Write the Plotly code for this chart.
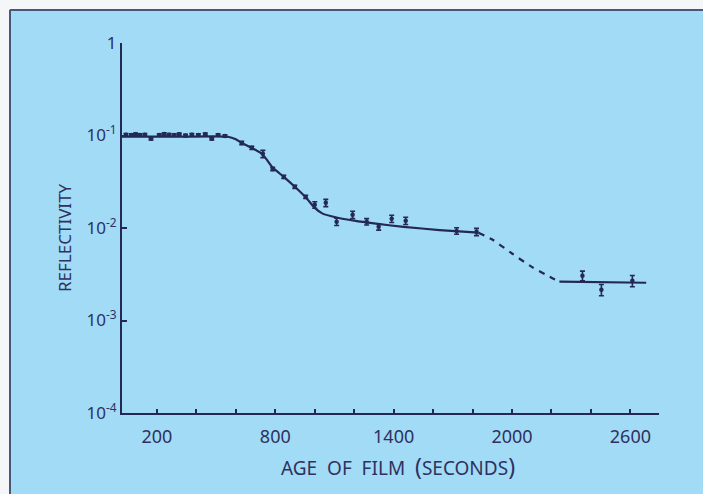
import plotly.graph_objects as go

# Measured reflectivity of the ageing film
age_s = [43, 70, 92, 114, 139, 170, 212, 237, 262, 288, 313, 345, 377, 410, 445, 478, 510, 545,
         630, 681, 737, 787, 843, 899, 954, 1000, 1056, 1111, 1192, 1263, 1324, 1390, 1461,
         1719, 1820, 2357, 2453, 2610]
reflectivity = [0.102, 0.101, 0.103, 0.101, 0.102, 0.092, 0.101, 0.104, 0.102, 0.101, 0.103, 0.100,
                0.102, 0.101, 0.103, 0.092, 0.101, 0.099,
                0.083, 0.0735, 0.0633, 0.0435, 0.0357, 0.0279, 0.0217, 0.0178, 0.0187, 0.0117,
                0.0139, 0.0117, 0.0103, 0.0126, 0.0120,
                0.0093, 0.0091, 0.00305, 0.00215, 0.00269]
rel_error = [0.03] * 18 + [0.04, 0.04, 0.09, 0.04, 0.04, 0.04, 0.04, 0.08, 0.09, 0.09,
                           0.09, 0.08, 0.08, 0.09, 0.09, 0.08, 0.09, 0.12, 0.14, 0.14]

# Fitted trend: solid where measured, dashed across the gap
fit_age = [23, 300, 560, 600, 630, 681, 737, 787, 843, 899, 954, 1000, 1040, 1111, 1200,
           1300, 1450, 1633, 1830]
fit_refl = [0.097, 0.097, 0.097, 0.091, 0.083, 0.0735, 0.062, 0.045, 0.0357, 0.0279, 0.0215,
            0.0165, 0.0143, 0.0130, 0.0120, 0.0112, 0.0103, 0.0095, 0.0089]
gap_age = [1830, 1900, 2000, 2100, 2200, 2240]
gap_refl = [0.0089, 0.0075, 0.0053, 0.0038, 0.0029, 0.00265]
tail_age = [2240, 2450, 2680]
tail_refl = [0.00263, 0.0026, 0.00256]

x_ticks = [200, 400, 600, 800, 1000, 1200, 1400, 1600, 1800, 2000, 2200, 2400, 2600]
x_labels = ["200", "", "", "800", "", "", "1400", "", "", "2000", "", "", "2600"]
y_ticks = [1e-4, 1e-3, 1e-2, 1e-1, 1]
y_labels = ["10<sup>-4</sup>", "10<sup>-3</sup>", "10<sup>-2</sup>", "10<sup>-1</sup>", "1"]

INK = "#232856"
TEXT = "#2f3160"
PANEL = "#a2dbf5"
MOUNT = "#f4f6f8"
FONT = "'Noto Sans', 'Open Sans', sans-serif"

fig = go.Figure()
fig.add_trace(go.Scatter(x=fit_age, y=fit_refl, mode="lines",
                         line=dict(color=INK, width=2.2, shape="spline", smoothing=0.6)))
fig.add_trace(go.Scatter(x=gap_age, y=gap_refl, mode="lines",
                         line=dict(color=INK, width=2.2, dash="6px,6px", shape="spline", smoothing=0.6)))
fig.add_trace(go.Scatter(x=tail_age, y=tail_refl, mode="lines",
                         line=dict(color=INK, width=2.2)))
fig.add_trace(go.Scatter(
    x=age_s, y=reflectivity, mode="markers",
    marker=dict(color=INK, size=4.5, symbol="circle"),
    error_y=dict(type="data", array=[r * e for r, e in zip(reflectivity, rel_error)],
                 color=INK, thickness=1.6, width=2.5),
))

# Light-blue card: pale mount strips on the top and left, with a dark rule
W, H = 703, 494
L, R, T = 122, 44, 43
B = H - 413
pw, ph = W - L - R, H - T - B


def px_x(px):
    return (px - L) / pw


def px_y(py):
    return (H - B - py) / ph


RULE = dict(color="#4b5678", width=2)
fig.add_shape(type="rect", xref="paper", yref="paper",
              x0=px_x(-5), x1=px_x(9), y0=px_y(H + 5), y1=px_y(-5),
              fillcolor=MOUNT, line=dict(width=0), layer="below")
fig.add_shape(type="rect", xref="paper", yref="paper",
              x0=px_x(-5), x1=px_x(W + 5), y0=px_y(9), y1=px_y(-5),
              fillcolor=MOUNT, line=dict(width=0), layer="below")
fig.add_shape(type="line", xref="paper", yref="paper",
              x0=px_x(10), x1=px_x(10), y0=px_y(H + 5), y1=px_y(10), line=RULE, layer="below")
fig.add_shape(type="line", xref="paper", yref="paper",
              x0=px_x(10), x1=px_x(W + 5), y0=px_y(10), y1=px_y(10), line=RULE, layer="below")

fig.add_annotation(text="REFLECTIVITY", xref="paper", yref="paper",
                   x=px_x(65), y=px_y(238), textangle=-90, showarrow=False,
                   xanchor="center", yanchor="middle",
                   font=dict(family=FONT, size=17, color=TEXT))
fig.add_annotation(text="AGE&nbsp;&nbsp;OF&nbsp;&nbsp;FILM&nbsp;&nbsp;<span style='font-size:23px'>(</span>SECONDS<span style='font-size:23px'>)</span>",
                   xref="paper", yref="paper", x=px_x(398), y=px_y(466), showarrow=False,
                   xanchor="center", yanchor="middle",
                   font=dict(family=FONT, size=19, color=TEXT))

fig.update_layout(
    width=W, height=H,
    margin=dict(l=L, r=R, t=T, b=B),
    paper_bgcolor=PANEL,
    plot_bgcolor="rgba(0,0,0,0)",
    showlegend=False,
    font=dict(family=FONT, color=TEXT, size=16),
)
fig.update_xaxes(range=[23, 2745], tickvals=x_ticks, ticktext=x_labels,
                 showline=True, linecolor=INK, linewidth=2, ticks="inside",
                 ticklen=4, tickwidth=1.5, tickcolor=INK, showgrid=False, zeroline=False,
                 ticklabelstandoff=6, tickfont=dict(size=18, color=TEXT))
fig.update_yaxes(type="log", range=[-4, 0], tickvals=y_ticks, ticktext=y_labels,
                 showline=True, linecolor=INK, linewidth=2, ticks="inside",
                 ticklen=5, tickwidth=1.5, tickcolor=INK, showgrid=False, zeroline=False,
                 tickfont=dict(size=17, color=TEXT))

fig.write_html("out.html")
